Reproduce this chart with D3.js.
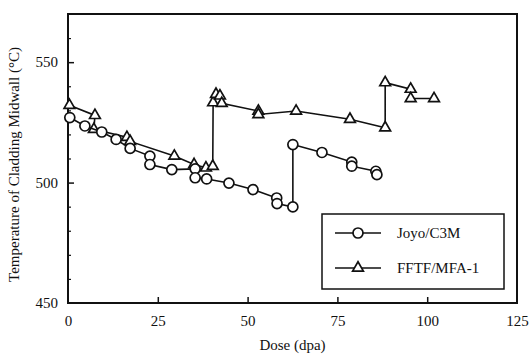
<!DOCTYPE html>
<html>
<head>
<meta charset="utf-8">
<script src="https://cdn.jsdelivr.net/npm/d3@7"></script>
<style>
  html, body { margin: 0; padding: 0; background: #fff; }
  svg { display: block; }
</style>
</head>
<body>
<svg id="chart" width="531" height="356"></svg>
<script>
// Joyo/C3M cladding midwall temperatures (°C) versus dose (dpa)
const joyoDose = [0.5, 4.7, 9.4, 13.4, 17.3, 22.8, 22.8, 28.9, 35.4, 35.4, 38.6, 44.8, 51.5, 58.1, 58.2, 62.6, 62.6, 70.7, 79.0, 79.0, 85.7, 86.0];
const joyoTemp = [527.0, 523.5, 521.0, 517.9, 514.2, 511.0, 507.5, 505.4, 505.7, 502.0, 501.5, 499.8, 497.1, 493.6, 491.3, 489.9, 515.8, 512.5, 508.5, 506.8, 504.7, 503.3];

// FFTF/MFA-1 cladding midwall temperatures (°C) versus dose (dpa)
const fftfDose = [0.4, 7.5, 7.2, 16.4, 17.3, 29.6, 35.1, 38.4, 40.3, 40.4, 41.2, 42.3, 42.8, 53.0, 53.0, 63.5, 78.5, 88.3, 88.3, 95.4, 95.4, 101.9];
const fftfTemp = [532.1, 527.9, 522.1, 518.8, 517.1, 511.0, 507.5, 506.1, 506.8, 533.2, 536.7, 536.0, 532.9, 529.7, 528.3, 529.7, 526.3, 522.8, 541.5, 538.8, 534.9, 534.9];

const xTicks = [0, 25, 50, 75, 100, 125];
const yTicks = [450, 500, 550];
const yMinorTicks = [460, 470, 480, 490, 510, 520, 530, 540, 560];

const seriesNames = ["Joyo/C3M", "FFTF/MFA-1"];

const FONT = "'Liberation Serif', 'Times New Roman', 'DejaVu Serif', serif";
const INK = "#111";

const svg = d3.select("#chart");
const plotL = 68, plotR = 517, plotT = 14, plotB = 303;

const x = d3.scaleLinear().domain([0, 125]).range([plotL, plotR]);
const y = d3.scaleLinear().domain([450, 570]).range([plotB, plotT]);

// plot frame
svg.append("rect")
  .attr("x", plotL).attr("y", plotT)
  .attr("width", plotR - plotL).attr("height", plotB - plotT)
  .attr("fill", "none").attr("stroke", INK).attr("stroke-width", 2);

// x axis: inward ticks
const xAxis = d3.axisBottom(x).tickValues(xTicks).tickSizeInner(-6).tickSizeOuter(0).tickPadding(10);
const gx = svg.append("g").attr("transform", `translate(0,${plotB})`).call(xAxis)
  .attr("font-family", FONT).attr("font-size", 15);
gx.select(".domain").remove();
gx.selectAll(".tick line").attr("stroke", INK).attr("stroke-width", 1.5);
gx.selectAll(".tick text").attr("fill", INK).attr("dy", "0.85em");
gx.selectAll(".tick").filter(d => d === 0 || d === 125).select("line").remove();

// y axis: inward major and minor ticks
const yAxis = d3.axisLeft(y).tickValues(yTicks).tickSizeInner(-6).tickSizeOuter(0).tickPadding(10);
const gy = svg.append("g").attr("transform", `translate(${plotL},0)`).call(yAxis)
  .attr("font-family", FONT).attr("font-size", 15);
gy.select(".domain").remove();
gy.selectAll(".tick line").attr("stroke", INK).attr("stroke-width", 1.5);
gy.selectAll(".tick text").attr("fill", INK);
gy.selectAll(".tick").filter(d => d === 450).select("line").remove();

const yMinor = d3.axisLeft(y).tickValues(yMinorTicks).tickSize(-3).tickFormat("");
const gym = svg.append("g").attr("transform", `translate(${plotL},0)`).call(yMinor);
gym.select(".domain").remove();
gym.selectAll(".tick line").attr("stroke", INK).attr("stroke-width", 1.2);

// axis titles
svg.append("text")
  .attr("x", (plotL + plotR) / 2).attr("y", 350)
  .attr("text-anchor", "middle").attr("font-size", 15)
  .attr("font-family", FONT).attr("fill", INK)
  .text("Dose (dpa)");
svg.append("text")
  .attr("transform", `translate(19,${(plotT + plotB) / 2 + 6}) rotate(-90)`)
  .attr("text-anchor", "middle").attr("font-size", 15)
  .attr("font-family", FONT).attr("fill", INK)
  .text("Temperature of Cladding Midwall (°C)");

const line = d3.line().x(d => x(d[0])).y(d => y(d[1]));
const joyo = joyoDose.map((d, i) => [d, joyoTemp[i]]);
const fftf = fftfDose.map((d, i) => [d, fftfTemp[i]]);

const tri = d3.symbol().type(d3.symbolTriangle).size(50);

function drawTriangles(g, data) {
  g.selectAll("path.tri").data(data).join("path")
    .attr("class", "tri")
    .attr("d", tri)
    .attr("transform", d => `translate(${x(d[0])},${y(d[1])})`)
    .attr("fill", "#fff").attr("stroke", INK).attr("stroke-width", 1.7);
}
function drawCircles(g, data) {
  g.selectAll("circle").data(data).join("circle")
    .attr("cx", d => x(d[0])).attr("cy", d => y(d[1])).attr("r", 5)
    .attr("fill", "#fff").attr("stroke", INK).attr("stroke-width", 1.7);
}

// FFTF series
const gf = svg.append("g");
gf.append("path").datum(fftf).attr("d", line)
  .attr("fill", "none").attr("stroke", INK).attr("stroke-width", 1.6);
drawTriangles(gf, fftf);

// Joyo series
const gj = svg.append("g");
gj.append("path").datum(joyo).attr("d", line)
  .attr("fill", "none").attr("stroke", INK).attr("stroke-width", 1.6);
drawCircles(gj, joyo);

// legend
const lg = svg.append("g");
lg.append("rect").attr("x", 322).attr("y", 214).attr("width", 182).attr("height", 75)
  .attr("fill", "#fff").attr("stroke", INK).attr("stroke-width", 1.5);
const legendRows = [233, 268];
seriesNames.forEach((name, i) => {
  const ly = legendRows[i];
  lg.append("line").attr("x1", 335).attr("x2", 381).attr("y1", ly).attr("y2", ly)
    .attr("stroke", INK).attr("stroke-width", 1.5);
  if (i === 0) {
    lg.append("circle").attr("cx", 358).attr("cy", ly).attr("r", 5)
      .attr("fill", "#fff").attr("stroke", INK).attr("stroke-width", 1.7);
  } else {
    lg.append("path").attr("d", tri).attr("transform", `translate(358,${ly})`)
      .attr("fill", "#fff").attr("stroke", INK).attr("stroke-width", 1.7);
  }
  lg.append("text").attr("x", 397).attr("y", ly + 5)
    .attr("font-size", 15).attr("font-family", FONT).attr("fill", INK)
    .text(name);
});
</script>
</body>
</html>
